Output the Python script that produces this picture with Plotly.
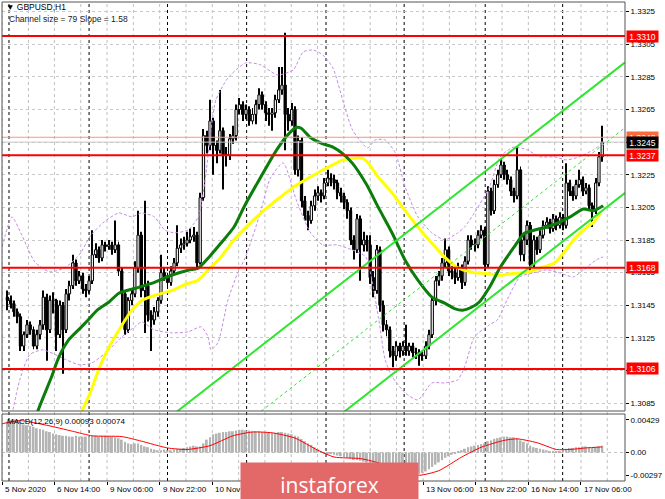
import plotly.graph_objects as go

# ---------------- data ----------------
first_open = 1.3150
closes = [1.3148,1.3146,1.3141,1.3138,1.3120,1.3127,1.3133,1.3130,1.3120,1.3127,
          1.3133,1.3150,1.3130,1.3148,1.3148,1.3127,1.3145,1.3130,1.3152,1.3157,
          1.3171,1.3160,1.3163,1.3155,1.3154,1.3160,1.3176,1.3179,1.3174,1.3182,
          1.3181,1.3182,1.3179,1.3182,1.3166,1.3152,1.3130,1.3148,1.3152,1.3168,
          1.3188,1.3154,1.3157,1.3139,1.3136,1.3141,1.3148,1.3165,1.3163,1.3159,
          1.3166,1.3171,1.3180,1.3182,1.3183,1.3185,1.3187,1.3188,1.3171,
          1.3211,1.3249,1.3243,1.3258,1.3243,1.3240,1.3252,1.3237,1.3237,1.3247,
          1.3249,1.3265,1.3268,1.3262,1.3265,1.3258,1.3262,
          1.3268,1.3274,1.3268,1.3263,1.3262,1.3263,1.3271,1.3277,1.3280,1.3262,
          1.3258,1.3265,1.3228,1.3246,1.3209,1.3200,1.3197,1.3206,1.3212,1.3214,
          1.3212,1.3220,1.3223,1.3222,1.3220,1.3214,1.3212,1.3208,1.3203,1.3185,
          1.3179,1.3198,1.3182,1.3185,1.3182,1.3162,1.3154,1.3179,1.3145,1.3133,
          1.3130,1.3117,1.3114,1.3120,1.3117,1.3120,1.3117,1.3120,1.3116,1.3116,
          1.3114,1.3114,1.3120,1.3127,1.3148,1.3160,1.3163,1.3171,1.3179,1.3166,
          1.3165,1.3162,1.3168,1.3159,1.3172,1.3185,1.3182,1.3182,1.3188,1.3191,
          1.3170,1.3215,1.3203,1.3219,1.3225,1.3231,1.3225,1.3222,1.3215,1.3212,
          1.3228,1.3176,1.3185,1.3194,1.3170,1.3185,1.3179,1.3188,1.3194,1.3196,
          1.3192,1.3198,1.3194,1.3199,1.3194,1.3220,1.3215,1.3212,1.3219,1.3222,
          1.3215,1.3217,1.3206,1.3203,1.3220,1.3236,1.3245]
highs = [1.3154,1.3151,1.3148,1.3143,1.3140,1.3129,1.3136,1.3135,1.3132,1.3130,
         1.3136,1.3154,1.3152,1.3151,1.3153,1.3149,1.3148,1.3147,1.3155,1.3160,
         1.3176,1.3173,1.3166,1.3165,1.3158,1.3163,1.3191,1.3183,1.3181,1.3185,
         1.3184,1.3185,1.3184,1.3197,1.3184,1.3168,1.3154,1.3150,1.3155,1.3172,
         1.3203,1.3190,1.3209,1.3160,1.3142,1.3144,1.3150,1.3176,1.3168,1.3165,
         1.3169,1.3174,1.3194,1.3186,1.3187,1.3190,1.3192,1.3193,1.3190,
         1.3214,1.3253,1.3252,1.3271,1.3260,1.3246,1.3277,1.3254,1.3242,1.3250,
         1.3255,1.3268,1.3272,1.3270,1.3268,1.3267,1.3266,
         1.3271,1.3278,1.3276,1.3270,1.3266,1.3266,1.3274,1.3291,1.3291,1.3312,
         1.3266,1.3269,1.3267,1.3249,1.3248,1.3212,1.3203,1.3209,1.3216,1.3218,
         1.3216,1.3223,1.3228,1.3226,1.3225,1.3222,1.3217,1.3214,1.3210,1.3205,
         1.3188,1.3201,1.3200,1.3190,1.3188,1.3188,1.3166,1.3182,1.3181,1.3148,
         1.3136,1.3132,1.3120,1.3123,1.3122,1.3123,1.3133,1.3122,1.3122,1.3119,
         1.3118,1.3117,1.3123,1.3130,1.3150,1.3163,1.3166,1.3174,1.3186,1.3181,
         1.3169,1.3168,1.3171,1.3170,1.3175,1.3188,1.3188,1.3186,1.3191,1.3194,
         1.3193,1.3218,1.3217,1.3222,1.3228,1.3235,1.3233,1.3228,1.3224,1.3217,
         1.3242,1.3230,1.3189,1.3197,1.3196,1.3188,1.3187,1.3191,1.3197,1.3199,
         1.3198,1.3201,1.3200,1.3202,1.3201,1.3232,1.3222,1.3218,1.3222,1.3228,
         1.3224,1.3220,1.3219,1.3208,1.3223,1.3239,1.3255]
lows = [1.3142,1.3143,1.3138,1.3134,1.3117,1.3117,1.3125,1.3127,1.3118,1.3118,
        1.3124,1.3130,1.3111,1.3128,1.3140,1.3117,1.3125,1.3103,1.3128,1.3148,
        1.3155,1.3157,1.3158,1.3152,1.3150,1.3152,1.3158,1.3174,1.3171,1.3172,
        1.3178,1.3179,1.3176,1.3177,1.3163,1.3134,1.3127,1.3128,1.3145,1.3150,
        1.3165,1.3150,1.3128,1.3135,1.3117,1.3133,1.3138,1.3146,1.3160,1.3156,
        1.3157,1.3164,1.3169,1.3177,1.3179,1.3181,1.3183,1.3184,1.3168,
        1.3170,1.3209,1.3238,1.3240,1.3225,1.3232,1.3238,1.3216,1.3230,1.3234,
        1.3244,1.3246,1.3262,1.3258,1.3259,1.3255,1.3256,
        1.3256,1.3265,1.3265,1.3258,1.3255,1.3252,1.3260,1.3269,1.3274,1.3240,
        1.3252,1.3255,1.3225,1.3224,1.3205,1.3197,1.3191,1.3195,1.3203,1.3209,
        1.3208,1.3210,1.3218,1.3218,1.3216,1.3210,1.3208,1.3204,1.3198,1.3182,
        1.3173,1.3177,1.3160,1.3178,1.3178,1.3158,1.3150,1.3152,1.3141,1.3129,
        1.3126,1.3113,1.3107,1.3111,1.3113,1.3114,1.3114,1.3114,1.3113,1.3112,
        1.3108,1.3111,1.3112,1.3118,1.3125,1.3145,1.3157,1.3160,1.3168,1.3163,
        1.3161,1.3158,1.3160,1.3155,1.3157,1.3170,1.3179,1.3178,1.3180,1.3186,
        1.3166,1.3168,1.3200,1.3201,1.3217,1.3223,1.3222,1.3219,1.3212,1.3208,
        1.3210,1.3172,1.3172,1.3182,1.3166,1.3168,1.3176,1.3177,1.3186,1.3192,
        1.3189,1.3190,1.3191,1.3192,1.3191,1.3192,1.3212,1.3209,1.3210,1.3217,
        1.3212,1.3213,1.3203,1.3193,1.3201,1.3218,1.3233]

macd_hist = [0.0041,0.0043,0.0044,0.0043,0.0040,
             0.0037,0.0036,0.0035,0.0034,
             0.0032,0.0031,0.0030,0.0028,0.0027,0.0025,
             0.0024,0.0023,0.0022,0.0022,0.0021,0.0021,0.0022,0.0021,0.0021,
             0.0021,0.0021,0.0022,0.0022,0.0021,0.0022,0.0022,0.0021,0.0021,0.0020,0.0019,0.0017,
             0.0014,0.0012,0.0011,0.0012,0.0012,0.0010,
             0.0008,0.0007,0.0005,0.0004,0.0003,0.0003,0.0004,0.0003,
             0.0003,0.0004,0.0005,0.0005,
             0.0006,0.0007,0.0008,0.0009,0.0008,0.0008,0.0012,0.0017,0.0020,
             0.0024,0.0025,0.0026,0.0027,0.0027,0.0028,0.0028,0.0029,
             0.0030,0.0030,0.0029,0.0029,0.0028,0.0028,0.0028,0.0027,0.0027,0.0026,0.0026,
             0.0026,0.0027,0.0027,0.0026,0.0025,0.0024,0.0022,
             0.0021,0.0018,0.0015,0.0012,0.0010,0.0007,0.0004,
             0.0001,-0.0001,-0.0002,-0.0002,-0.0003,-0.0004,
             -0.0005,-0.0006,-0.0007,-0.0008,-0.0010,-0.0010,-0.0011,-0.0012,-0.0013,-0.0015,-0.0017,-0.0019,
             -0.0021,-0.0023,-0.0025,-0.0026,-0.0027,-0.0028,-0.0029,-0.0029,-0.0030,-0.0030,-0.0030,-0.0029,-0.0028,
             -0.0027,-0.0025,-0.0022,-0.0019,-0.0016,-0.0013,
             -0.0010,-0.0007,-0.0005,-0.0003,-0.0001,0.0001,0.0003,
             0.0005,0.0007,0.0008,0.0009,0.0010,0.0011,
             0.0012,0.0015,0.0016,0.0018,0.0019,0.0020,0.0021,0.0021,0.0020,0.0020,
             0.0019,0.0016,0.0014,0.0012,0.0009,0.0007,0.0006,0.0005,
             0.0004,0.0003,0.0002,0.0002,0.0002,0.0002,
             0.0004,0.0005,0.0006,0.0006,0.0007,0.0007,0.0008,0.0008,0.0007,0.0006,0.0007,0.0008,0.0009]
signal_bars = [-1.6,4,12,20,26,35,41,49,55,62,69,75,81,88,95,100,108,113,120,126,132,139,145,152,156,162,168,172,177,182]
signal_vals = [0.0038,0.0042,0.0036,0.0028,0.0022,0.0021,0.0015,0.0006,0.0004,0.0009,0.0022,0.0027,0.0026,0.0019,0.0003,
               -0.0006,-0.0008,-0.0013,-0.0024,-0.0030,-0.0024,-0.0006,0.0007,0.0016,0.0018,0.0013,0.0004,0.0004,0.0006,0.00074]

ma_green_bars = [6.8,9.3,13.5,15.6,18.7,22.3,24.7,27.5,31.1,34.1,40.2,45.0,50.2,55.3,58.4,61.4,65.3,69.3,72.6,77.5,
                 82.3,86.5,88.4,89.9,92.6,96.5,99.6,102.6,105.6,109.9,113.5,117.8,121.7,125.6,129.9,133.8,136.8,139.3,
                 142.0,144.4,147.5,150.8,155.0,158.1,161.1,165.0,169.0,172.0,176.2,179.3,182.3]
ma_green_vals = [1.3062,1.3080,1.3101,1.31125,1.31236,1.3131,1.3136,1.3142,1.3147,1.31524,1.3156,1.3159,1.31634,1.31665,
                 1.31677,1.31738,1.3183,1.31928,1.3206,1.32235,1.3240,1.3251,1.3254,1.32535,1.3248,1.3244,1.3242,1.3238,
                 1.3232,1.3219,1.3205,1.3189,1.31726,1.31604,1.3150,1.31463,1.3143,1.3142,1.31438,1.3147,1.3156,1.31683,
                 1.31806,1.3189,1.3191,1.3193,1.3196,1.3199,1.3204,1.3203,1.3206]
ma_yellow_bars = [20.8,22.3,25.3,28.2,31.1,34.1,38.1,41.1,45.0,50.2,55.3,58.4,61.4,65.3,69.3,72.6,77.5,82.3,87.5,92.6,
                  97.5,102.6,105.6,108.7,110.2,113.5,117.8,121.7,125.6,129.9,133.8,137.8,142.0,146.0,150.8,155.0,159.0,
                  162.9,167.2,170.2,173.2,176.2,179.3,181.4]
ma_yellow_vals = [1.3062,1.30776,1.3091,1.3107,1.31193,1.31297,1.3142,1.3148,1.3151,1.3154,1.31585,1.31604,1.31665,1.31745,
                  1.3185,1.3192,1.32014,1.32094,1.32174,1.32235,1.3229,1.3234,1.3235,1.3235,1.32327,1.32235,1.32137,1.3203,
                  1.3193,1.3183,1.31745,1.3168,1.31653,1.31646,1.31634,1.31646,1.31653,1.31677,1.31708,1.3177,1.3185,1.3191,
                  1.3196,1.3201]
band_up_bars = [-1.6,1.4,4.4,8.4,12.9,17.5,22.0,25.6,29.6,34.1,38.1,41.1,45.0,48.1,51.1,55.3,58.4,60.5,62.3,63.8,67.5,
                72.9,77.5,82.6,87.5,90.5,93.5,96.5,99.6,102.6,105.6,110.2,112.6,115.6,118.7,121.7,125.6,129.9,133.8,137.8,
                139.9,142.9,147.5,150.8,155.0,159.0,162.9,167.2,171.1,175.0,179.3,182.3]
band_up_vals = [1.31808,1.31992,1.31881,1.31716,1.31655,1.31679,1.31759,1.31881,1.31961,1.32016,1.31992,1.32016,1.31992,
                1.31912,1.31894,1.31912,1.31992,1.32219,1.32525,1.32709,1.32844,1.32936,1.32924,1.32862,1.32893,1.33003,
                1.33015,1.32985,1.32905,1.32709,1.32525,1.32415,1.32464,1.32464,1.32384,1.32176,1.31992,1.31894,1.31851,
                1.31894,1.3193,1.32016,1.32176,1.3236,1.32421,1.32403,1.3236,1.3236,1.32341,1.3236,1.32403,1.32445]
band_lo_bars = [1.4,3.8,6.8,10.8,18.1,22.0,25.9,31.1,35.0,39.0,41.1,45.0,50.2,55.3,59.3,61.4,62.3,64.4,67.5,70.5,72.9,
                77.2,80.5,84.4,88.4,92.6,96.5,100.8,105.6,109.6,113.5,115.6,117.8,121.7,125.6,129.9,133.8,137.8,139.9,
                142.9,147.5,149.9,152.9,156.8,161.0,165.0,168.9,173.2,176.2,180.2,182.3]
band_lo_vals = [1.30778,1.30993,1.31146,1.31177,1.31115,1.31085,1.31097,1.31177,1.31256,1.31318,1.31348,1.31299,1.31281,
                1.31287,1.31318,1.31256,1.31177,1.3122,1.31483,1.31649,1.31747,1.32004,1.32231,1.32323,1.32096,1.319,
                1.3182,1.3182,1.31789,1.31747,1.31379,1.31115,1.31011,1.30913,1.3087,1.30974,1.30974,1.30993,1.31072,
                1.31256,1.3133,1.3136,1.31483,1.31624,1.31649,1.31667,1.31649,1.31624,1.31667,1.31728,1.31747]

channel_bars = [40, 189]
channel_upper = [1.30613, 1.32939]
channel_mid = [1.30213, 1.32539]
channel_lower = [1.29813, 1.32139]

red_levels = [1.3310, 1.3237, 1.3168, 1.3106]
orange_level = 1.3248
bid_level = 1.3245

price_ticks = [1.3085, 1.3105, 1.3125, 1.3145, 1.3165, 1.3185, 1.3205, 1.3225, 1.3245, 1.3265, 1.3285, 1.3305, 1.3325]
macd_ticks = [0.00429, 0.0, -0.00297]
macd_tick_text = ["0.00429", "0.00", "-0.00297"]
time_tick_bars = [-1.6, 14.4, 30.5, 46.6, 62.7, 78.8, 94.9, 111.0, 127.2, 143.3, 159.4, 175.5]
time_tick_labels = ["5 Nov 2020", "6 Nov 14:00", "9 Nov 06:00", "9 Nov 22:00", "10 Nov 14:00", "", "", "",
                    "13 Nov 06:00", "13 Nov 22:00", "16 Nov 14:00", "17 Nov 06:00"]
day_separators = [0.5, 25.0, 49.0, 73.2, 97.5, 121.4, 146.2, 169.9]

# ---------------- figure ----------------
FONT = "Liberation Sans"
n = min(len(closes), len(highs), len(lows))
bars = list(range(n))
opens = [first_open] + closes[:n - 1]
up = [i for i in bars if closes[i] >= opens[i]]
dn = [i for i in bars if closes[i] < opens[i]]
MIN_BODY = 0.00003

fig = go.Figure()

for bx, bv in ((band_up_bars, band_up_vals), (band_lo_bars, band_lo_vals)):
    fig.add_trace(go.Scatter(x=bx, y=bv, mode="lines", line=dict(color="#c68ae6", width=1, dash="3px,2px", shape="spline", smoothing=0.6),
                             hoverinfo="skip", xaxis="x", yaxis="y"))

fig.add_trace(go.Bar(x=bars, y=[highs[i] - lows[i] for i in bars], base=[lows[i] for i in bars], width=0.3,
                     marker=dict(color="black", line=dict(width=0)), hoverinfo="skip", xaxis="x", yaxis="y"))
for ids, fill in ((up, "#f4f4f4"), (dn, "black")):
    fig.add_trace(go.Bar(x=ids, y=[max(abs(closes[i] - opens[i]), MIN_BODY) for i in ids],
                         base=[min(opens[i], closes[i]) for i in ids], width=0.7,
                         marker=dict(color=fill, line=dict(color="black", width=1)), hoverinfo="skip",
                         xaxis="x", yaxis="y"))

fig.add_trace(go.Scatter(x=ma_yellow_bars, y=ma_yellow_vals, mode="lines",
                         line=dict(color="#ffff00", width=3, shape="spline", smoothing=0.6), hoverinfo="skip", xaxis="x", yaxis="y"))
fig.add_trace(go.Scatter(x=ma_green_bars, y=ma_green_vals, mode="lines",
                         line=dict(color="#0a7d0a", width=3, shape="spline", smoothing=0.6), hoverinfo="skip", xaxis="x", yaxis="y"))

fig.add_trace(go.Scatter(x=channel_bars, y=channel_upper, mode="lines", line=dict(color="#2ee62e", width=2), hoverinfo="skip", xaxis="x", yaxis="y"))
fig.add_trace(go.Scatter(x=channel_bars, y=channel_lower, mode="lines", line=dict(color="#2ee62e", width=2), hoverinfo="skip", xaxis="x", yaxis="y"))
fig.add_trace(go.Scatter(x=channel_bars, y=channel_mid, mode="lines", line=dict(color="#2ee62e", width=1, dash="3px,3px"), hoverinfo="skip", xaxis="x", yaxis="y"))

fig.add_trace(go.Bar(x=list(range(len(macd_hist))), y=macd_hist, width=0.6, marker=dict(color="#b4b4b4", line=dict(width=0)),
                     hoverinfo="skip", xaxis="x", yaxis="y2"))
fig.add_trace(go.Scatter(x=signal_bars, y=signal_vals, mode="lines", line=dict(color="#ff0000", width=1, shape="spline", smoothing=0.6),
                         hoverinfo="skip", xaxis="x", yaxis="y2"))

# ---------------- layout ----------------
W, H = 665, 499
L, R, T, B = 2, 34, 2, 18
PW, PH = W - L - R, H - T - B
def py(pix):
    return (H - B - pix) / PH
def px(pix):
    return (pix - L) / PW

price_dom = [py(411), 1]
macd_dom = [0, py(414)]

shapes = []
for t in time_tick_bars:
    for g in (t, t + 8.05):
        shapes.append(dict(type="line", xref="x", yref="paper", x0=g, x1=g, y0=0, y1=1, layer="below",
                           line=dict(color="#c0c0c0", width=1, dash="3px,3px")))
for s in day_separators:
    shapes.append(dict(type="line", xref="x", yref="paper", x0=s, x1=s, y0=0, y1=1, layer="below",
                       line=dict(color="black", width=1, dash="3px,3px")))
shapes.append(dict(type="line", xref="paper", yref="y2", x0=0, x1=1, y0=0, y1=0, layer="below",
                   line=dict(color="#c0c0c0", width=1, dash="3px,3px")))
shapes.append(dict(type="line", xref="paper", yref="y", x0=0, x1=1, y0=bid_level, y1=bid_level, layer="above",
                   line=dict(color="#c8c8c8", width=1)))
shapes.append(dict(type="line", xref="paper", yref="y", x0=0, x1=1, y0=orange_level, y1=orange_level, layer="above",
                   line=dict(color="#ff9470", width=1)))
for lv in red_levels:
    shapes.append(dict(type="line", xref="paper", yref="y", x0=0, x1=1, y0=lv, y1=lv, layer="above",
                       line=dict(color="#ff0000", width=2)))
shapes.append(dict(type="rect", xref="paper", yref="paper", x0=0, x1=1, y0=price_dom[0], y1=1, layer="above",
                   line=dict(color="#555555", width=1)))
shapes.append(dict(type="rect", xref="paper", yref="paper", x0=0, x1=1, y0=0, y1=macd_dom[1], layer="above",
                   line=dict(color="#555555", width=1)))

ann = []
ann.append(dict(text="▼ GBPUSD,H1", x=px(4), y=py(7), xref="paper", yref="paper", xanchor="left", yanchor="middle",
                showarrow=False, font=dict(family=FONT, size=8.5, color="black")))
ann.append(dict(text="Channel size = 79 Slope = 1.58", x=px(7), y=py(19), xref="paper", yref="paper", xanchor="left",
                yanchor="middle", showarrow=False, font=dict(family=FONT, size=8.5, color="#202020")))
ann.append(dict(text="MACD(12,26,9) 0.00093 0.00074", x=px(5), y=py(421), xref="paper", yref="paper", xanchor="left",
                yanchor="middle", showarrow=False, font=dict(family=FONT, size=8, color="black")))
for tb, tl in zip(time_tick_bars, time_tick_labels):
    if tl:
        ann.append(dict(text=tl, x=tb, y=py(489), xref="x", yref="paper", xanchor="left", yanchor="middle", xshift=1,
                        showarrow=False, font=dict(family=FONT, size=8, color="black")))

def price_box(val, bg):
    return dict(text=f"{val:.4f}", x=1, y=val, xref="paper", yref="y", xanchor="left", yanchor="middle", xshift=1,
                showarrow=False, bgcolor=bg, width=31, height=11, borderpad=0,
                font=dict(family=FONT, size=8.5, color="white"))
ann.append(price_box(red_levels[0], "#ff0000"))
ann.append(price_box(orange_level, "#ff6a3d"))
ann.append(price_box(bid_level, "#000000"))
for lv in red_levels[1:]:
    ann.append(price_box(lv, "#ff0000"))

ann.append(dict(text="instaforex", x=px(332.5), y=py(462), xref="paper", yref="paper", xanchor="center", yanchor="top",
                showarrow=False, bgcolor="#e36868", width=177, height=44, borderpad=0,
                font=dict(family="Open Sans", size=21, color="white")))

fig.update_layout(
    width=W, height=H, autosize=False,
    margin=dict(l=L, r=R, t=T, b=B),
    paper_bgcolor="white", plot_bgcolor="white",
    showlegend=False, hovermode=False, barmode="overlay",
    shapes=shapes, annotations=ann,
    xaxis=dict(domain=[0, 1], range=[-1.64, 188.97], anchor="y2", showgrid=False, zeroline=False,
               tickvals=time_tick_bars, ticktext=[""] * len(time_tick_bars), ticks="outside", ticklen=3,
               tickcolor="black", showline=False, fixedrange=True),
    yaxis=dict(domain=price_dom, range=[1.30802, 1.33309], side="right", anchor="x",
               tickvals=price_ticks, ticktext=[f"{v:.4f}" for v in price_ticks], ticks="outside", ticklen=3,
               tickcolor="black", showgrid=True, gridcolor="#c8c8c8", griddash="3px,3px", gridwidth=1,
               zeroline=False, showline=False, tickfont=dict(family=FONT, size=8, color="black")),
    yaxis2=dict(domain=macd_dom, range=[-0.00376, 0.00508], side="right", anchor="x",
                tickvals=macd_ticks, ticktext=macd_tick_text, ticks="outside", ticklen=3, tickcolor="black",
                showgrid=False, zeroline=False, showline=False, tickfont=dict(family=FONT, size=8, color="black")),
)

fig.write_html("out.html", config={"displayModeBar": False},
               post_script="document.body.style.margin='0';document.body.style.overflow='hidden';")
